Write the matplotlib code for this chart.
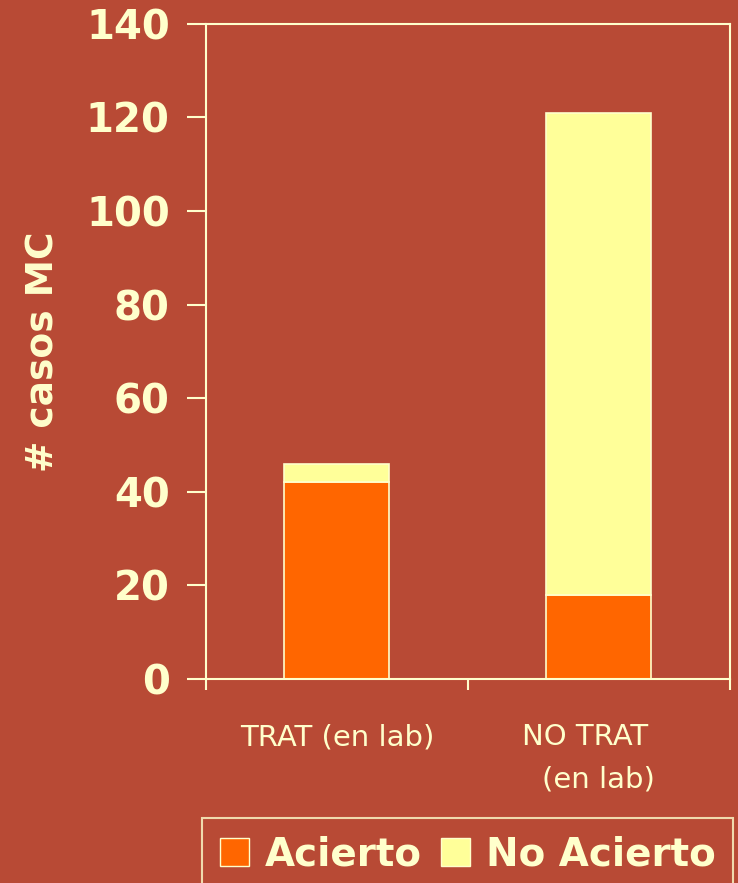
import matplotlib.pyplot as plt
from matplotlib.patches import Patch

# data
categories = ['TRAT (en lab)', 'NO TRAT   \n(en lab)']
acierto = [42, 18]
no_acierto = [4, 103]
y_ticks = [0, 20, 40, 60, 80, 100, 120, 140]

bg = '#B84A35'
fg = '#FFFFCC'
c_acierto = '#FF6600'
c_no_acierto = '#FFFF99'

fig = plt.figure(figsize=(7.38, 8.83), dpi=100, facecolor=bg)
ax = fig.add_axes([0.279, 0.231, 0.71, 0.742], facecolor=bg)

x = list(range(len(categories)))
ax.bar(x, acierto, width=0.4, color=c_acierto, edgecolor=fg, linewidth=1.2)
ax.bar(x, no_acierto, width=0.4, bottom=acierto, color=c_no_acierto,
       edgecolor=fg, linewidth=1.2)

ax.set_xlim(-0.5, 1.5)
ax.set_ylim(0, 140)
ax.set_yticks(y_ticks)
ax.set_yticklabels([str(v) for v in y_ticks], fontsize=29, fontweight='bold', color=fg)

# category boundaries carry the tick marks, labels sit in the middle
ax.set_xticks([-0.5, 0.5, 1.5])
ax.set_xticklabels([])
ax.tick_params(axis='x', length=8, width=1.5, color=fg, direction='out')
ax.tick_params(axis='y', length=14, width=1.5, color=fg, direction='out', pad=12)
for xi, lab in zip(x, categories):
    ax.text(xi, -9.5, lab, ha='center', va='top', fontsize=21, color=fg,
            transform=ax.transData, linespacing=1.65)

for s in ax.spines.values():
    s.set_color(fg)
    s.set_linewidth(1.5)

ax.set_ylabel('# casos MC', fontsize=27, fontweight='bold', color=fg)
ax.yaxis.set_label_coords(-0.275, 0.5)

handles = [Patch(facecolor=c_acierto, edgecolor=fg, label='Acierto'),
           Patch(facecolor=c_no_acierto, edgecolor=fg, label='No Acierto')]
leg = fig.legend(handles=handles, loc='upper left', bbox_to_anchor=(0.274, 1 - 818 / 883),
                 ncol=2, frameon=True, fancybox=False,
                 prop={'weight': 'bold', 'size': 28}, handlelength=0.75,
                 handleheight=0.75, handletextpad=0.4, columnspacing=0.5,
                 borderpad=0.45, borderaxespad=0)
leg.get_frame().set_facecolor(bg)
leg.get_frame().set_edgecolor(fg)
leg.get_frame().set_linewidth(1.5)
for t in leg.get_texts():
    t.set_color(fg)

fig.savefig('out.png', dpi=100, facecolor=bg)
